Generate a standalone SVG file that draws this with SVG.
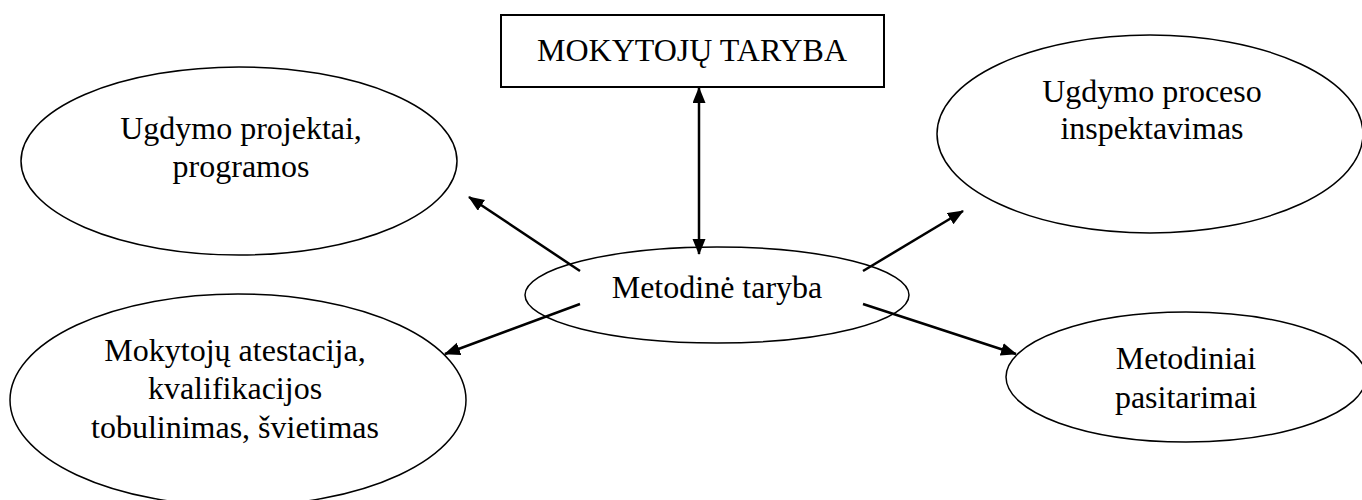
<svg xmlns="http://www.w3.org/2000/svg" width="1362" height="500" viewBox="0 0 1362 500">
<style>
.n{fill:#fff;stroke:#000;stroke-width:1.5}
.b{fill:#fff;stroke:#000;stroke-width:2}
text{font-family:'Liberation Serif','Times New Roman','DejaVu Serif',serif;font-size:32px;fill:#000;text-anchor:middle}
.c{stroke:#000;stroke-width:2.5;fill:none}
</style>
<defs>
<marker id="ah" markerUnits="userSpaceOnUse" markerWidth="16" markerHeight="14" refX="15" refY="6.5" orient="auto-start-reverse" viewBox="0 0 16 14">
<path d="M0,0 L16,6.5 L0,13 z" fill="#000"/>
</marker>
</defs>
<rect width="1362" height="500" fill="#fff"/>
<g id="node-mokytoju-taryba">
<rect class="b" x="501" y="15" width="383" height="72"/>
<text x="692" y="61">MOKYTOJŲ TARYBA</text>
</g>
<g id="node-ugdymo-projektai">
<ellipse class="n" cx="239" cy="161" rx="218" ry="94"/>
<text x="241" y="139">Ugdymo projektai,</text>
<text x="241" y="177">programos</text>
</g>
<g id="node-ugdymo-proceso">
<ellipse class="n" cx="1150" cy="134" rx="213" ry="99"/>
<text x="1152" y="102">Ugdymo proceso</text>
<text x="1152" y="139">inspektavimas</text>
</g>
<g id="node-mokytoju-atestacija">
<ellipse class="n" cx="238" cy="400" rx="228" ry="106"/>
<text x="235" y="361">Mokytojų atestacija,</text>
<text x="235" y="399">kvalifikacijos</text>
<text x="235" y="438">tobulinimas, švietimas</text>
</g>
<g id="node-metodiniai-pasitarimai">
<ellipse class="n" cx="1186" cy="377" rx="180" ry="65"/>
<text x="1186" y="369">Metodiniai</text>
<text x="1186" y="408">pasitarimai</text>
</g>
<g id="node-metodine-taryba">
<ellipse class="n" cx="717" cy="295" rx="192" ry="48"/>
<text x="717" y="298">Metodinė taryba</text>
</g>
<g id="connectors">
<line class="c" x1="699" y1="88" x2="699" y2="254" marker-start="url(#ah)" marker-end="url(#ah)"/>
<line class="c" x1="580" y1="271" x2="469" y2="197" marker-end="url(#ah)"/>
<line class="c" x1="580" y1="304" x2="445" y2="354" marker-end="url(#ah)"/>
<line class="c" x1="863" y1="271" x2="963" y2="211" marker-end="url(#ah)"/>
<line class="c" x1="863" y1="304" x2="1016" y2="354" marker-end="url(#ah)"/>
</g>
</svg>
